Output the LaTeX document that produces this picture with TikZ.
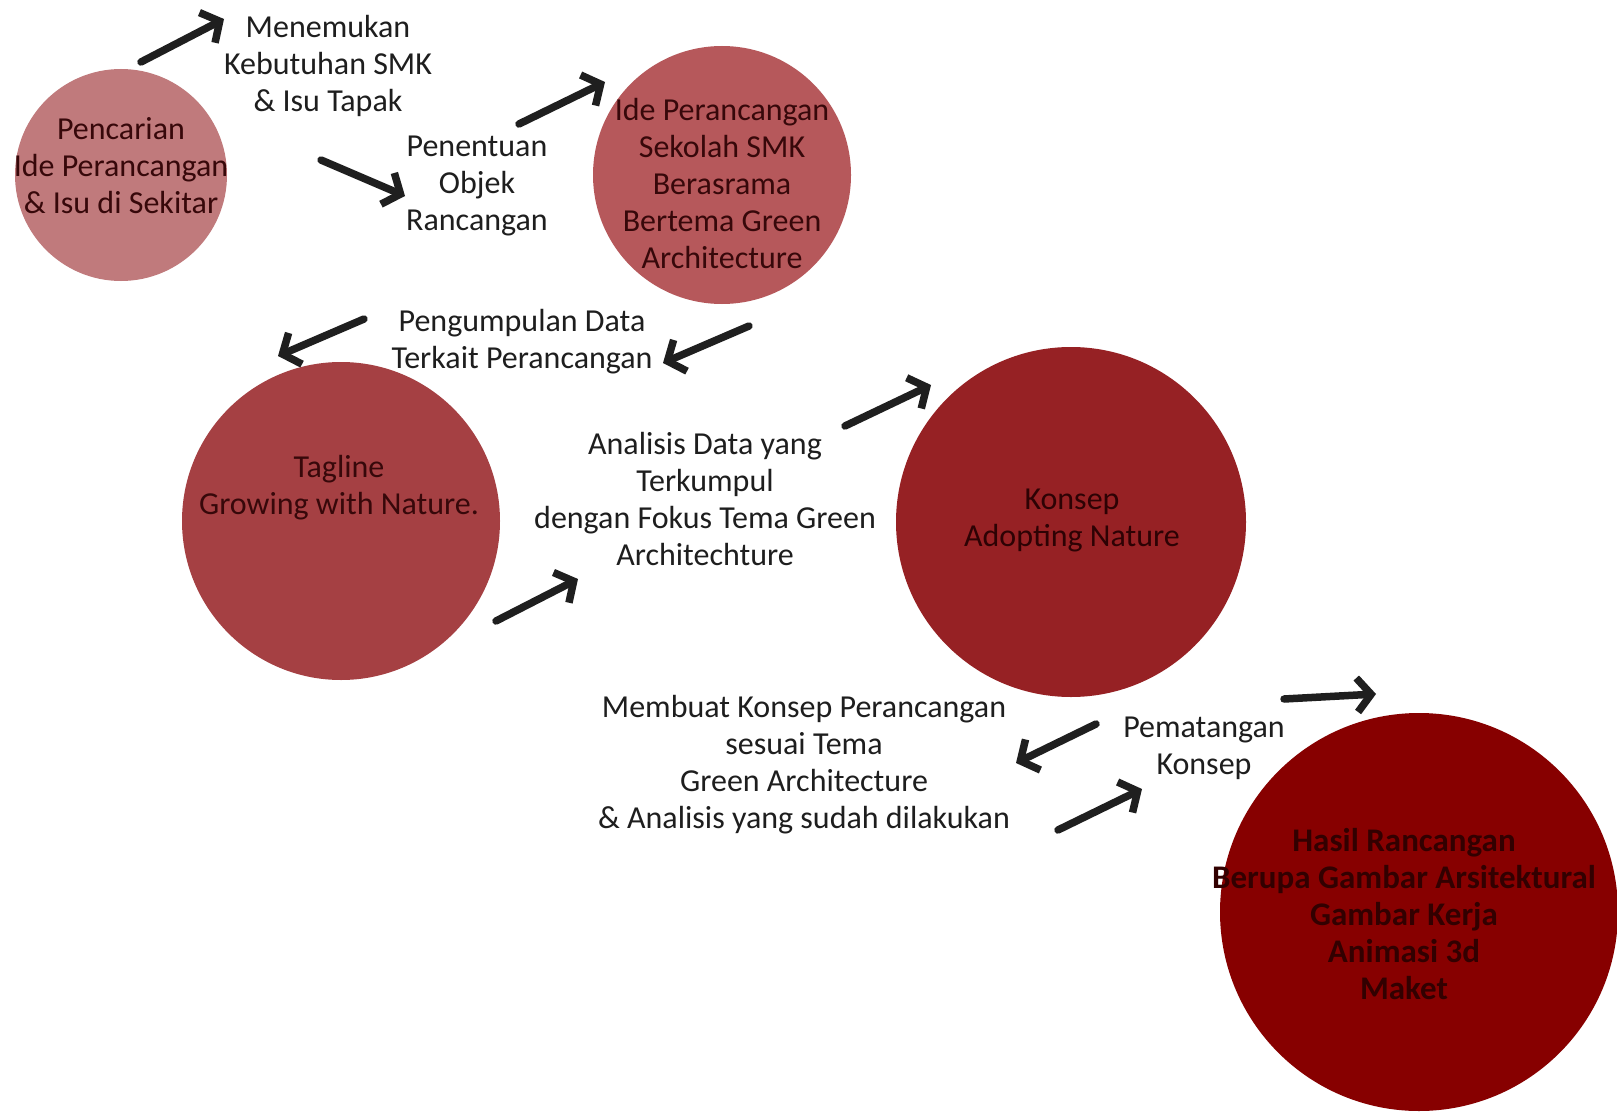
\documentclass[tikz,border=0pt]{standalone}
\usepackage{fontspec}
\setmainfont{Carlito}
\usetikzlibrary{arrows.meta}
\definecolor{cA}{RGB}{192,122,124}
\definecolor{cB}{RGB}{182,88,91}
\definecolor{cC}{RGB}{165,64,67}
\definecolor{cD}{RGB}{150,33,36}
\definecolor{cE}{RGB}{135,0,0}
\definecolor{tin}{RGB}{55,8,10}
\definecolor{tout}{RGB}{30,30,30}
\begin{document}
\begin{tikzpicture}[x=1pt,y=-1pt,
  blob/.style={circle,inner sep=0pt,draw=none},
  lbl/.style={align=center,text=tout,font=\fontsize{32}{37}\selectfont},
  intext/.style={align=center,text=tin,font=\fontsize{32}{37}\selectfont},
  flow/.style={line width=7.5pt,line cap=round,draw=black!88,
    -{Straight Barb[length=14pt,width=34pt,line width=7.5pt]}}]
\useasboundingbox[fill=white] (0,0) rectangle (1617,1113);
% circles
\node[blob,fill=cA,minimum size=212pt] (c1) at (121,175) {};
\node[blob,fill=cB,minimum size=258pt] (c2) at (722,175) {};
\node[blob,fill=cC,minimum size=318pt] (c3) at (341,521) {};
\node[blob,fill=cD,minimum size=350pt] (c4) at (1071,522) {};
\node[blob,fill=cE,minimum size=398pt] (c5) at (1419,912) {};
% circle texts
\node[intext] (t1) at (121,166) {Pencarian\\Ide Perancangan\\\& Isu di Sekitar};
\node[intext] (t2) at (722,184) {Ide Perancangan\\Sekolah SMK\\Berasrama\\Bertema Green\\Architecture};
\node[intext] (t3) at (339,488) {Tagline\\Growing with Nature.};
\node[intext,text={rgb,255:red,45;green,2;blue,4}] (t4) at (1072,520) {Konsep\\Adopting Nature};
\node[intext,text={rgb,255:red,50;green,0;blue,0},font=\fontsize{33}{37}\selectfont\bfseries] (t5) at (1404,914) {Hasil Rancangan\\Berupa Gambar Arsitektural\\Gambar Kerja\\Animasi 3d\\Maket};
% labels
\node[lbl] (l1) at (328,66) {Menemukan\\Kebutuhan SMK\\\& Isu Tapak};
\node[lbl] (l2) at (477,186) {Penentuan\\Objek\\Rancangan};
\node[lbl] (l3) at (522,342) {Pengumpulan Data\\Terkait Perancangan};
\node[lbl] (l4) at (705,499) {Analisis Data yang\\Terkumpul\\dengan Fokus Tema Green\\Architechture};
\node[lbl] (l5) at (804,765) {Membuat Konsep Perancangan\\sesuai Tema\\Green Architecture\\\& Analisis yang sudah dilakukan};
\node[lbl] (l6) at (1204,748) {Pematangan\\Konsep};
% arrow end points
\coordinate (a1s) at (141,62);  \coordinate (a1e) at (224,19);
\coordinate (a2s) at (321,160); \coordinate (a2e) at (405,196);
\coordinate (a3s) at (519,124); \coordinate (a3e) at (605,82);
\coordinate (a4s) at (364,319); \coordinate (a4e) at (278,356);
\coordinate (a5s) at (749,326); \coordinate (a5e) at (663,363);
\coordinate (a6s) at (496,621); \coordinate (a6e) at (578,579);
\coordinate (a7s) at (845,426); \coordinate (a7e) at (931,385);
\coordinate (a8s) at (1096,724); \coordinate (a8e) at (1016,763);
\coordinate (a9s) at (1058,830); \coordinate (a9e) at (1142,789);
\coordinate (a10s) at (1284,699); \coordinate (a10e) at (1376,694);
\draw[flow] (a1s) -- (a1e);
\draw[flow] (a2s) -- (a2e);
\draw[flow] (a3s) -- (a3e);
\draw[flow] (a4s) -- (a4e);
\draw[flow] (a5s) -- (a5e);
\draw[flow] (a6s) -- (a6e);
\draw[flow] (a7s) -- (a7e);
\draw[flow] (a8s) -- (a8e);
\draw[flow] (a9s) -- (a9e);
\draw[flow] (a10s) -- (a10e);
\end{tikzpicture}
\end{document}
